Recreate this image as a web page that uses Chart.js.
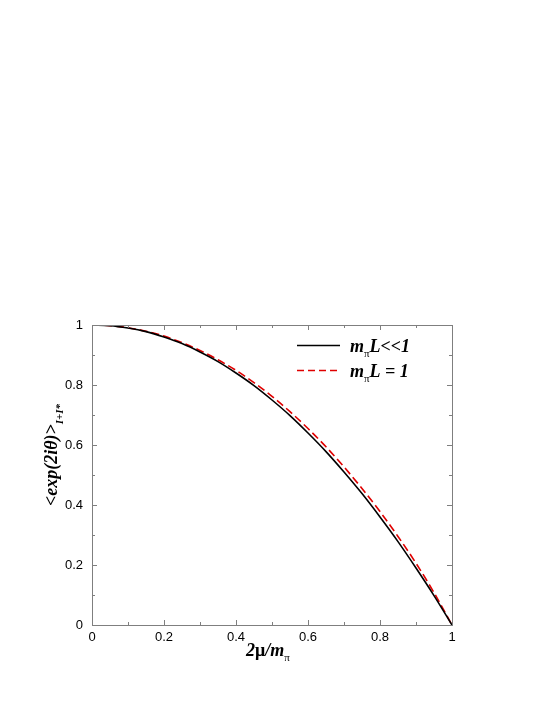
<!DOCTYPE html>
<html>
<head>
<meta charset="utf-8">
<script src="https://cdn.jsdelivr.net/npm/chart.js@4/dist/chart.umd.min.js"></script>
<style>
  html, body { margin: 0; padding: 0; background: #fff; }
  #wrap { width: 545px; height: 705px; }
</style>
</head>
<body>
<div id="wrap"><canvas id="chart" width="545" height="705"></canvas></div>
<script>
// --- data ---
const xValues = [0, 0.05, 0.1, 0.15, 0.2, 0.25, 0.3, 0.35, 0.4, 0.45, 0.5,
                 0.55, 0.6, 0.65, 0.7, 0.75, 0.8, 0.85, 0.9, 0.95, 1];
const smallL = [1, 0.998, 0.99, 0.978, 0.96, 0.938, 0.91, 0.878, 0.84, 0.798, 0.75,
                0.698, 0.64, 0.578, 0.51, 0.438, 0.36, 0.278, 0.19, 0.098, 0];
const unitL = [1, 0.998, 0.991, 0.979, 0.963, 0.941, 0.915, 0.884, 0.849, 0.808, 0.762,
               0.711, 0.655, 0.594, 0.527, 0.455, 0.378, 0.295, 0.206, 0.108, 0];
const xTicks = [0, 0.2, 0.4, 0.6, 0.8, 1];
const yTicks = [0, 0.2, 0.4, 0.6, 0.8, 1];

const toPts = (ys) => ys.map((y, i) => ({ x: xValues[i], y: y }));

const SERIF = '"Liberation Serif", "Times New Roman", serif';
const AXIS_COLOR = '#7f7f7f';

// draw a run of text pieces [text, font, dy]
function drawRuns(ctx, runs, x, y) {
  let cx = x;
  runs.forEach(([t, f, dy]) => {
    ctx.font = f;
    ctx.fillText(t, cx, y + (dy || 0));
    cx += ctx.measureText(t).width;
  });
  return cx - x;
}
function runsWidth(ctx, runs) {
  let w = 0;
  runs.forEach(([t, f]) => { ctx.font = f; w += ctx.measureText(t).width; });
  return w;
}

const big = 'italic bold 18px ' + SERIF;
const bigUp = 'bold 18px ' + SERIF;
const sub = '11px ' + SERIF;
const subBI = 'italic bold 11px ' + SERIF;

const decorations = {
  id: 'decorations',
  afterDraw(chart) {
    const ctx = chart.ctx;
    const a = chart.chartArea;
    const xs = chart.scales.x, ys = chart.scales.y;
    ctx.save();

    // frame + inward ticks on all four sides
    ctx.strokeStyle = AXIS_COLOR;
    ctx.lineWidth = 1;
    ctx.strokeRect(Math.round(a.left) + 0.5, Math.round(a.top) + 0.5,
                   Math.round(a.right - a.left), Math.round(a.bottom - a.top));
    ctx.beginPath();
    for (let i = 0; i <= 10; i++) {
      const v = i / 10;
      const len = i % 2 === 0 ? 5 : 3;
      const px = Math.round(xs.getPixelForValue(v)) + 0.5;
      ctx.moveTo(px, a.bottom); ctx.lineTo(px, a.bottom - len);
      ctx.moveTo(px, a.top); ctx.lineTo(px, a.top + len);
      const py = Math.round(ys.getPixelForValue(v)) + 0.5;
      ctx.moveTo(a.left, py); ctx.lineTo(a.left + len, py);
      ctx.moveTo(a.right, py); ctx.lineTo(a.right - len, py);
    }
    ctx.stroke();

    ctx.fillStyle = '#000';
    ctx.textBaseline = 'alphabetic';
    ctx.textAlign = 'left';

    // x axis title
    const xRuns = [['2', big], ['\u03bc', bigUp], ['/m', big], ['\u03c0', sub, 5]];
    const xw = runsWidth(ctx, xRuns);
    drawRuns(ctx, xRuns, (a.left + a.right) / 2 - 4 - xw / 2, 656);

    // y axis title (rotated)
    ctx.save();
    ctx.translate(57, 455);
    ctx.rotate(-Math.PI / 2);
    const yRuns = [['<exp(2i\u03b8)>', big], ['I+I*', subBI, 6]];
    const yw = runsWidth(ctx, yRuns);
    drawRuns(ctx, yRuns, -yw / 2, 0);
    ctx.restore();

    // legend
    const lx0 = 297, lx1 = 340, tx = 350;
    ctx.lineWidth = 1.5;
    ctx.strokeStyle = '#000';
    ctx.setLineDash([]);
    ctx.beginPath(); ctx.moveTo(lx0, 345.5); ctx.lineTo(lx1, 345.5); ctx.stroke();
    ctx.strokeStyle = '#e00000';
    ctx.setLineDash([7, 4]);
    ctx.beginPath(); ctx.moveTo(lx0, 370.5); ctx.lineTo(lx1, 370.5); ctx.stroke();
    ctx.setLineDash([]);
    drawRuns(ctx, [['m', big], ['\u03c0', sub, 5], ['L<<1', big]], tx, 352);
    drawRuns(ctx, [['m', big], ['\u03c0', sub, 5], ['L = 1', big]], tx, 377);

    ctx.restore();
  }
};

new Chart(document.getElementById('chart').getContext('2d'), {
  type: 'line',
  data: {
    datasets: [
      {
        label: 'mπL<<1',
        data: toPts(smallL),
        borderColor: '#000',
        borderWidth: 1.6,
        pointRadius: 0,
        fill: false,
        cubicInterpolationMode: 'monotone'
      },
      {
        label: 'mπL = 1',
        data: toPts(unitL),
        borderColor: '#e00000',
        borderWidth: 1.6,
        borderDash: [8, 4],
        pointRadius: 0,
        fill: false,
        cubicInterpolationMode: 'monotone'
      }
    ]
  },
  options: {
    responsive: false,
    animation: false,
    devicePixelRatio: 1,
    layout: { padding: { left: 0, top: 325, right: 93, bottom: 40 } },
    plugins: { legend: { display: false }, tooltip: { enabled: false } },
    scales: {
      x: {
        type: 'linear',
        min: 0, max: 1,
        afterBuildTicks: (s) => { s.ticks = xTicks.map(v => ({ value: v })); },
        afterFit: (s) => { s.height = 40; },
        grid: { display: false, drawTicks: false },
        border: { display: false },
        ticks: {
          padding: 5,
          color: '#000',
          font: { family: '"Liberation Sans", Arial, sans-serif', size: 13 },
          maxRotation: 0,
          callback: (v) => String(v)
        }
      },
      y: {
        type: 'linear',
        min: 0, max: 1,
        afterBuildTicks: (s) => { s.ticks = yTicks.map(v => ({ value: v })); },
        afterFit: (s) => { s.width = 92; },
        grid: { display: false, drawTicks: false },
        border: { display: false },
        ticks: {
          padding: 9,
          color: '#000',
          font: { family: '"Liberation Sans", Arial, sans-serif', size: 13 },
          callback: (v) => String(v)
        }
      }
    }
  },
  plugins: [decorations]
});
</script>
</body>
</html>
